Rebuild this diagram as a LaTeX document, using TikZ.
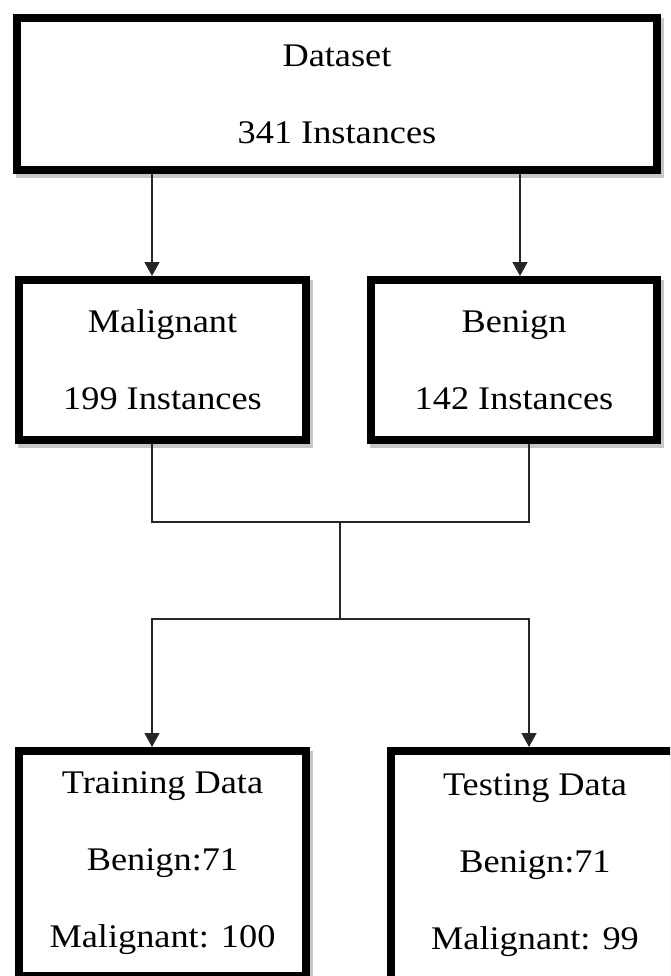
\documentclass[tikz,border=0pt]{standalone}
\usepackage{fontspec}
\setmainfont{Liberation Serif}[FakeStretch=1.1]
\usetikzlibrary{arrows.meta}

\tikzset{
  box/.style={
    draw=black, line width=8pt, fill=white, align=center,
    font=\fontsize{33}{77}\selectfont,
    preaction={draw=black!22, fill=black!22, line width=8pt,
               transform canvas={shift={(3pt,-4pt)}}}
  },
  conn/.style={draw=black!85, line width=1.4pt},
  arr/.style={conn, -{Triangle[width=15pt,length=14pt]}}
}

\begin{document}
\begin{tikzpicture}[x=1pt,y=-1pt]
  \useasboundingbox (0,0) rectangle (670,976);
  \clip (0,0) rectangle (670,976);
  \fill[white] (0,0) rectangle (670,976);

  % boxes
  \node[box, minimum width=640pt, minimum height=152pt] (data) at (337,94)
    {Dataset\\341 Instances};
  \node[box, minimum width=287pt, minimum height=160pt] (mal) at (162.5,360)
    {Malignant\\199 Instances};
  \node[box, minimum width=286pt, minimum height=160pt] (ben) at (514,360)
    {Benign\\142 Instances};
  \node[box, minimum width=287pt, minimum height=225pt] (train) at (162.5,863.5)
    {Training Data\\Benign:71\\Malignant: 100};
  \node[box, minimum width=288pt, minimum height=229pt] (test) at (535,865.5)
    {Testing Data\\Benign:71\\Malignant: 99};

  % connector columns and junctions
  \coordinate (colL) at (152,0);
  \coordinate (colR) at (520,0);
  \coordinate (colB) at (529,0);
  \coordinate (j1) at (340,522);
  \coordinate (j2) at (340,619);

  % dataset split
  \draw[arr] (data.south -| colL) -- (mal.north -| colL);
  \draw[arr] (data.south -| colR) -- (ben.north -| colR);

  % merge and re-split
  \draw[conn] (mal.south -| colL) |- (j1) -| (ben.south -| colB);
  \draw[conn] (j1) -- (j2);
  \draw[arr] (j2) -| (train.north -| colL);
  \draw[arr] (j2) -| (test.north -| colB);
\end{tikzpicture}
\end{document}
